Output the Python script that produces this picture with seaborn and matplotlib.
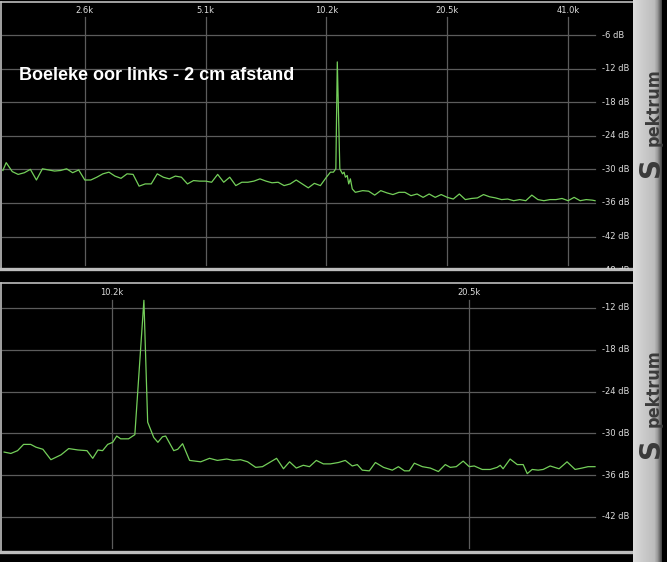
import matplotlib.pyplot as plt
import numpy as np
import pandas as pd
import seaborn as sns
from matplotlib.colors import LinearSegmentedColormap

# Top panel: full spectrum (frequency in kHz, level in dB)
top_freq_khz = [
    1.602, 1.633, 1.691, 1.749, 1.812, 1.876, 1.942, 2.010, 2.081, 2.155,
    2.231, 2.309, 2.391, 2.475, 2.563, 2.653, 2.746, 2.843, 2.944, 3.047,
    3.155, 3.266, 3.381, 3.500, 3.624, 3.752, 3.884, 4.021, 4.163, 4.310,
    4.462, 4.619, 4.782, 4.951, 5.125, 5.306, 5.493, 5.687, 5.887, 6.095,
    6.310, 6.532, 6.763, 7.001, 7.248, 7.504, 7.768, 8.042, 8.326, 8.619,
    8.923, 9.238, 9.564, 9.901, 10.25, 10.49, 10.67, 10.82, 10.91, 11.07,
    11.24, 11.34, 11.43, 11.55, 11.65, 11.76, 11.89, 12.10, 12.62, 13.06,
    13.52, 14.00, 14.50, 15.01, 15.54, 16.08, 16.65, 17.24, 17.85, 18.48,
    19.13, 19.80, 20.50, 21.22, 21.97, 22.74, 23.55, 24.38, 25.24, 26.13,
    27.05, 28.00, 28.99, 30.01, 31.07, 32.17, 33.30, 34.48, 35.69, 36.95,
    38.25, 39.60, 41.00, 42.45, 43.94, 45.49, 47.10, 47.86,
]
top_level_db = [
    -30.2, -28.8, -30.4, -30.9, -30.6, -30.0, -31.9, -29.9, -30.1, -30.3,
    -30.2, -29.9, -30.6, -30.1, -31.9, -31.9, -31.4, -30.8, -30.5, -31.2,
    -31.6, -30.8, -30.9, -33.0, -32.6, -32.6, -30.8, -31.4, -31.7, -31.2,
    -31.4, -32.6, -32.0, -32.1, -32.1, -32.3, -30.9, -32.3, -31.4, -32.9,
    -32.3, -32.3, -32.1, -31.7, -32.1, -32.4, -32.3, -32.9, -32.6, -31.9,
    -32.6, -33.3, -32.5, -32.9, -31.4, -30.5, -30.5, -29.9, -10.8, -29.9,
    -30.8, -30.5, -31.4, -31.1, -32.6, -31.7, -33.5, -34.1, -33.8, -33.9,
    -34.6, -33.8, -34.2, -34.5, -34.1, -34.1, -34.7, -34.4, -35.0, -34.4,
    -35.0, -34.5, -35.0, -35.3, -34.4, -35.4, -35.2, -35.1, -34.5, -34.9,
    -35.1, -35.4, -35.3, -35.6, -35.4, -35.6, -34.6, -35.4, -35.6, -35.4,
    -35.4, -35.2, -35.6, -35.0, -35.6, -35.4, -35.5, -35.6,
]

# Bottom panel: zoom around the tone
bottom_freq_khz = [
    8.32, 8.43, 8.54, 8.64, 8.76, 8.85, 8.97, 9.11, 9.29, 9.43,
    9.60, 9.77, 9.88, 9.98, 10.07, 10.17, 10.27, 10.35, 10.43, 10.59,
    10.72, 10.91, 10.99, 11.12, 11.21, 11.31, 11.38, 11.56, 11.65, 11.76,
    11.92, 12.18, 12.39, 12.58, 12.81, 12.98, 13.16, 13.34, 13.55, 13.73,
    14.11, 14.30, 14.47, 14.66, 14.86, 15.04, 15.24, 15.45, 15.66, 15.91,
    16.12, 16.34, 16.50, 16.66, 16.89, 17.09, 17.36, 17.66, 17.87, 18.08,
    18.25, 18.43, 18.72, 19.01, 19.31, 19.57, 19.76, 19.99, 20.26, 20.50,
    20.70, 21.02, 21.35, 21.64, 21.77, 21.89, 22.19, 22.50, 22.76, 22.94,
    23.16, 23.43, 23.66, 23.98, 24.40, 24.78, 25.17, 25.51, 25.81, 26.16,
]
bottom_level_db = [
    -32.7, -32.9, -32.5, -31.6, -31.6, -32.0, -32.3, -33.8, -33.1, -32.2,
    -32.4, -32.5, -33.6, -32.4, -32.5, -31.6, -31.3, -30.4, -30.8, -30.8,
    -30.2, -10.9, -28.4, -30.6, -31.3, -30.5, -30.4, -32.5, -32.3, -31.5,
    -33.9, -34.1, -33.6, -33.9, -33.7, -33.9, -33.8, -34.1, -34.9, -34.8,
    -33.6, -35.1, -34.1, -35.0, -34.6, -34.8, -33.9, -34.4, -34.4, -34.2,
    -33.9, -34.7, -34.5, -35.3, -35.4, -34.2, -34.9, -35.3, -34.8, -35.4,
    -35.4, -34.3, -34.8, -35.0, -35.5, -34.5, -34.9, -34.8, -34.0, -34.8,
    -34.7, -35.2, -35.2, -34.9, -34.6, -35.1, -33.7, -34.5, -34.5, -35.8,
    -35.2, -35.3, -35.2, -34.7, -35.1, -34.1, -35.2, -35.0, -34.8, -34.8,
]

top_freq_ticks = [2.5625, 5.125, 10.25, 20.5, 41.0]
top_freq_labels = ['2.6k', '5.1k', '10.2k', '20.5k', '41.0k']
top_db_ticks = [-6, -12, -18, -24, -30, -36, -42]
bottom_freq_ticks = [10.25, 20.5]
bottom_freq_labels = ['10.2k', '20.5k']
bottom_db_ticks = [-12, -18, -24, -30, -36, -42]

title = 'Boeleke oor links - 2 cm afstand'

W, H = 667, 562
line_color = '#74cf5a'
grid_color = '#5c5c5c'
label_color = '#dcdcdc'
border_color = '#bdbdbd'
logo_color = '#3a3a3a'


def px_rect(x0, y0, x1, y1):
    # pixel box (top-left origin) -> figure fraction rect
    return [x0 / W, 1 - y1 / H, (x1 - x0) / W, (y1 - y0) / H]


def draw_panel(ax, freq, level, freq_ticks, freq_labels, db_ticks, xlim, ylim,
               vspan, label_y):
    ax.set_facecolor('black')
    ax.set_xscale('log')
    ax.set_xlim(*xlim)
    ax.set_ylim(*ylim)

    # grid
    for d in db_ticks:
        ax.axhline(d, xmin=0.002, xmax=0.94, color=grid_color, lw=0.9, zorder=1)
        ax.text(0.951, d, f'{d} dB', transform=ax.get_yaxis_transform(),
                color=label_color, fontsize=6, va='center', ha='left')
    for f, lab in zip(freq_ticks, freq_labels):
        ax.axvline(f, ymin=vspan[0], ymax=vspan[1], color=grid_color, lw=0.9, zorder=1)
        ax.text(f, label_y, lab, transform=ax.get_xaxis_transform(),
                color=label_color, fontsize=6, va='center', ha='center')

    df = pd.DataFrame({'freq': freq, 'level': level})
    sns.lineplot(data=df, x='freq', y='level', ax=ax, color=line_color,
                 linewidth=0.9, zorder=3)

    ax.set_xlabel('')
    ax.set_ylabel('')
    ax.tick_params(which='both', bottom=False, left=False,
                   labelbottom=False, labelleft=False)
    for side, sp in ax.spines.items():
        sp.set_color(border_color)
        sp.set_linewidth(1.2)
    ax.spines['bottom'].set_linewidth(2.4)
    ax.spines['right'].set_visible(False)


fig = plt.figure(figsize=(W / 100, H / 100), dpi=100, facecolor='black')

# top panel
ax_top = fig.add_axes(px_rect(1, 2, 633, 269))
draw_panel(ax_top, top_freq_khz, top_level_db, top_freq_ticks, top_freq_labels,
           top_db_ticks, (1.585, 59.5), (-47.8, -0.1), (0.015, 0.944), 0.970)
# partly hidden -48 dB label at the lower edge
ax_top.text(0.951, -48, '-48 dB', transform=ax_top.get_yaxis_transform(),
            color=label_color, fontsize=6, va='center', ha='left', clip_on=True)
ax_top.text(0.0285, 0.708, title, transform=ax_top.transAxes, color='white',
            fontsize=13, fontweight='bold', family='Liberation Sans',
            va='baseline', ha='left')

# bottom panel
ax_bot = fig.add_axes(px_rect(1, 283, 633, 552))
draw_panel(ax_bot, bottom_freq_khz, bottom_level_db, bottom_freq_ticks,
           bottom_freq_labels, bottom_db_ticks, (8.27, 28.16), (-47.06, -8.41),
           (0.015, 0.937), 0.965)

# grey side strip with logo
strip = fig.add_axes(px_rect(633, 0, 662, H))
cmap = LinearSegmentedColormap.from_list(
    'strip', [(0.0, '#dcdcdc'), (0.3, '#cdcdcd'), (0.75, '#bcbcbc'),
              (0.86, '#9a9a9a'), (1.0, '#4a4a4a')])
strip.imshow(np.linspace(0, 1, 29)[None, :], cmap=cmap, aspect='auto')
strip.axis('off')

for s_base in [177, 458]:
    fig.text(659 / W, 1 - s_base / H, 'S', color=logo_color, fontsize=20,
             fontweight='bold', rotation=90, rotation_mode='anchor',
             ha='left', va='baseline')
    fig.text(659 / W, 1 - (s_base - 31) / H, 'pektrum', color=logo_color,
             fontsize=13, fontweight='bold', fontstretch='condensed',
             rotation=90, rotation_mode='anchor', ha='left', va='baseline')

fig.savefig('out.png', dpi=100, facecolor=fig.get_facecolor())
